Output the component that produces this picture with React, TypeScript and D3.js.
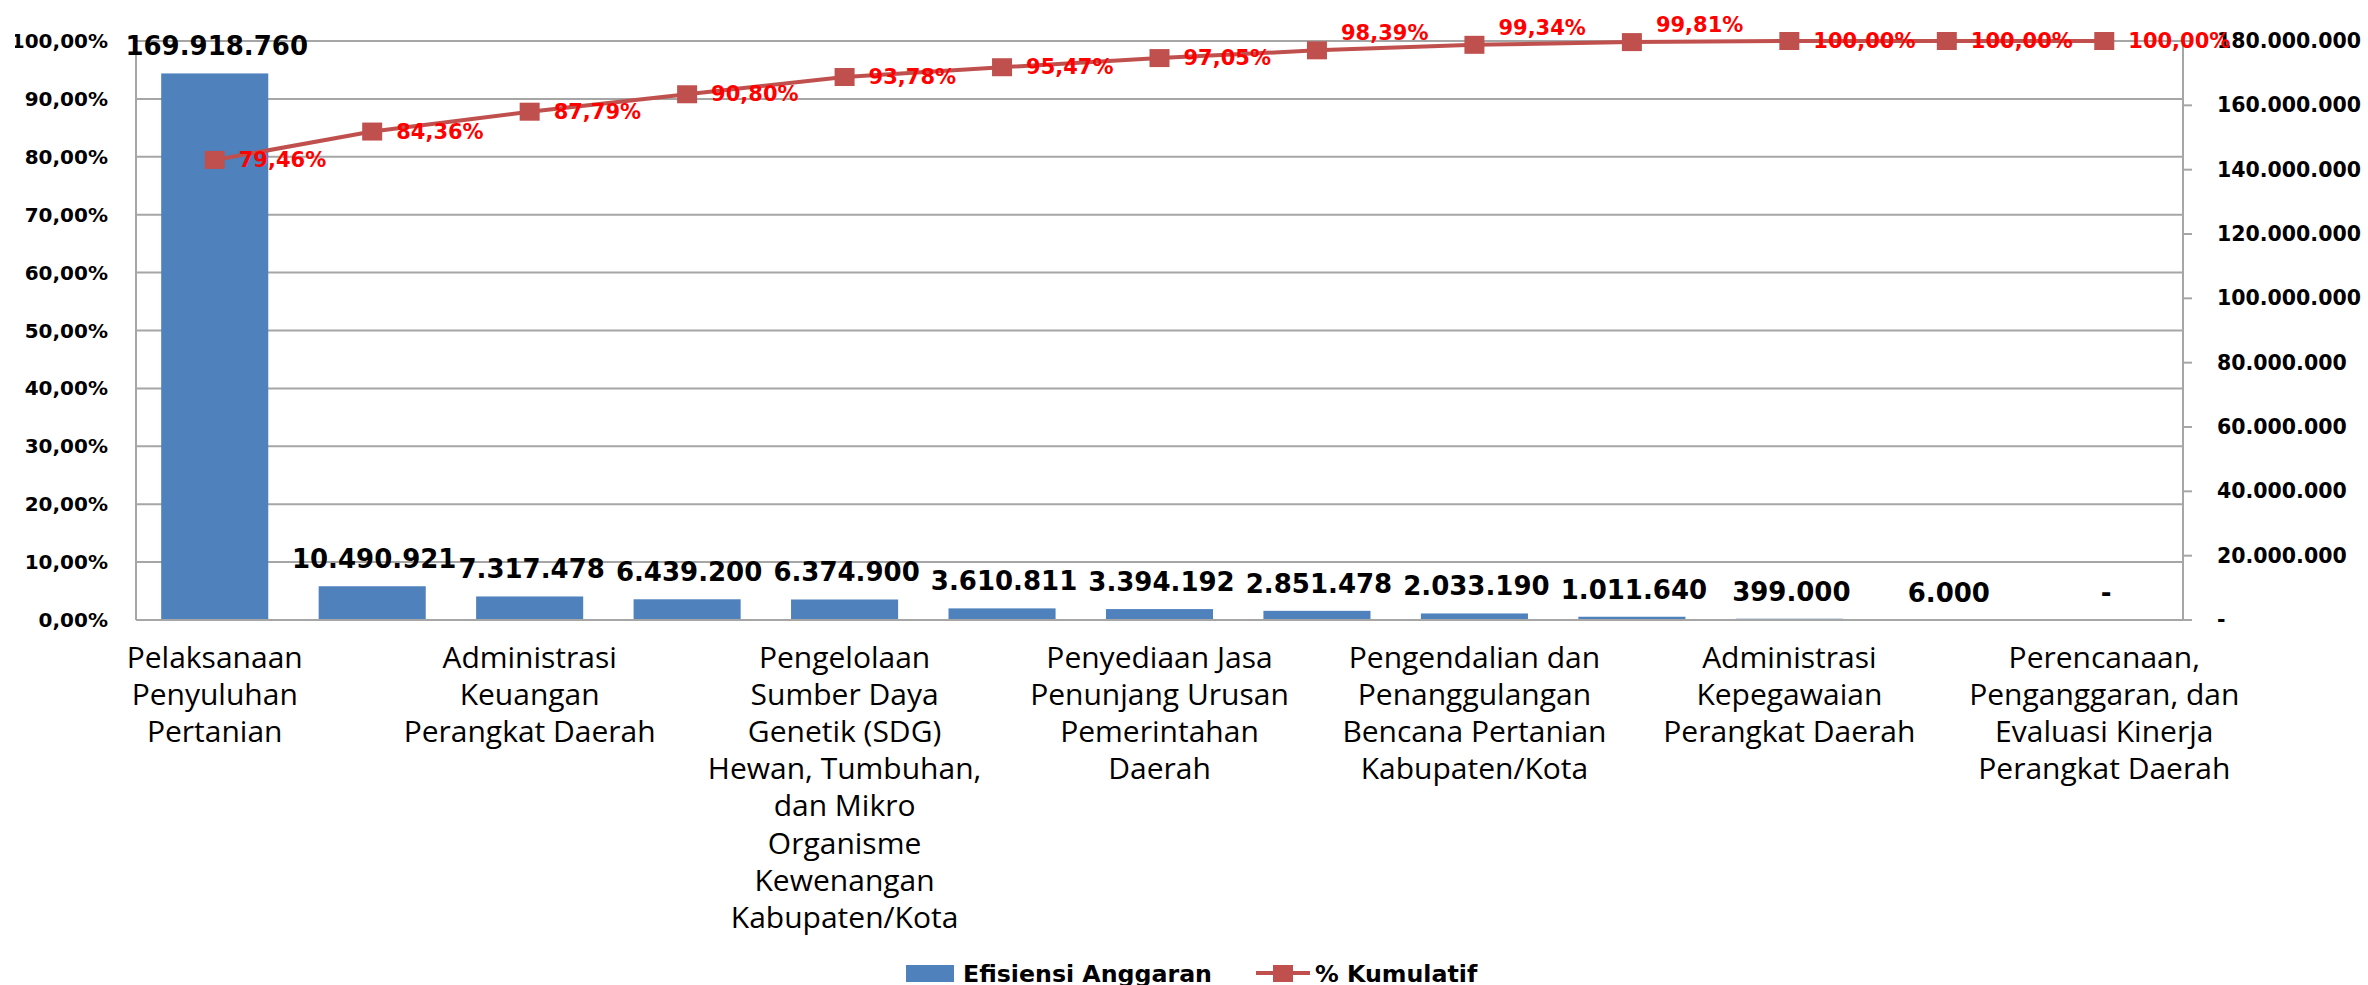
import React, { useRef, useEffect } from "react";
import * as d3 from "d3";

// category names, only every other one is printed on the axis (as in the source)
const categories = [
  "Pelaksanaan\nPenyuluhan\nPertanian",
  "",
  "Administrasi\nKeuangan\nPerangkat Daerah",
  "",
  "Pengelolaan\nSumber Daya\nGenetik (SDG)\nHewan, Tumbuhan,\ndan Mikro\nOrganisme\nKewenangan\nKabupaten/Kota",
  "",
  "Penyediaan Jasa\nPenunjang Urusan\nPemerintahan\nDaerah",
  "",
  "Pengendalian dan\nPenanggulangan\nBencana Pertanian\nKabupaten/Kota",
  "",
  "Administrasi\nKepegawaian\nPerangkat Daerah",
  "",
  "Perencanaan,\nPenganggaran, dan\nEvaluasi Kinerja\nPerangkat Daerah",
];

const efisiensi = [169918760, 10490921, 7317478, 6439200, 6374900, 3610811, 3394192, 2851478, 2033190, 1011640, 399000, 6000, 0];
const kumulatif = [79.46, 84.36, 87.79, 90.8, 93.78, 95.47, 97.05, 98.39, 99.34, 99.81, 100, 100, 100];

const legendBar = "Efisiensi Anggaran";
const legendLine = "% Kumulatif";

const W = 2368, H = 985;
const left = 136, right = 2183, top = 41, bottom = 620;
const BLUE = "#4F81BD", RED = "#C0504D", GRID = "#A6A6A6";
const NUM_FONT = "'DejaVu Sans', Verdana, sans-serif";
const CAT_FONT = "'Open Sans', 'Noto Sans', sans-serif";
// labels Excel pushed above the point instead of to its right
const raised = new Set([7, 8, 9]);

const loc = d3.formatLocale({ decimal: ",", thousands: ".", grouping: [3], currency: ["", ""] });
const fmtVal = (v: number) => (v === 0 ? "-" : loc.format(",d")(v));
const fmtPct = (v: number) => loc.format(".2f")(v) + "%";

function ParetoChart() {
  const svgRef = useRef<SVGSVGElement>(null);

  useEffect(() => {
    const svg = d3.select(svgRef.current);
    svg.selectAll("*").remove();

    const idx = categories.map((_, i) => String(i));
    const x = d3.scaleBand().domain(idx).range([left, right]).paddingInner(0.32).paddingOuter(0.16);
    const yPct = d3.scaleLinear().domain([0, 100]).range([bottom, top]);
    const yVal = d3.scaleLinear().domain([0, 180000000]).range([bottom, top]);
    const cx = (i: number) => (x(String(i)) as number) + x.bandwidth() / 2;

    svg.append("defs").append("clipPath").attr("id", "leftclip")
      .append("rect").attr("x", 15).attr("y", 0).attr("width", 200).attr("height", H);

    // gridlines (follow the percent axis)
    const pctTicks = yPct.ticks(10);
    svg.append("g").selectAll("line").data(pctTicks).join("line")
      .attr("x1", left).attr("x2", right)
      .attr("y1", d => yPct(d)).attr("y2", d => yPct(d))
      .attr("stroke", GRID).attr("stroke-width", 2);

    // bars
    svg.append("g").selectAll("rect").data(efisiensi).join("rect")
      .attr("x", (_, i) => x(String(i)) as number)
      .attr("width", x.bandwidth())
      .attr("y", d => yVal(d))
      .attr("height", d => bottom - yVal(d))
      .attr("fill", BLUE);

    // axis lines
    const ax = svg.append("g").attr("stroke", GRID).attr("stroke-width", 2);
    ax.append("line").attr("x1", left).attr("x2", left).attr("y1", top).attr("y2", bottom);
    ax.append("line").attr("x1", right).attr("x2", right).attr("y1", top).attr("y2", bottom);
    ax.append("line").attr("x1", left).attr("x2", right + 9).attr("y1", bottom).attr("y2", bottom);
    const valTicks = yVal.ticks(10);
    ax.selectAll("line.tk").data(valTicks).join("line").attr("class", "tk")
      .attr("x1", right).attr("x2", right + 9)
      .attr("y1", d => yVal(d)).attr("y2", d => yVal(d));

    // left tick labels
    svg.append("g").attr("clip-path", "url(#leftclip)")
      .selectAll("text").data(pctTicks).join("text")
      .attr("x", 108).attr("y", d => yPct(d))
      .attr("text-anchor", "end").attr("dominant-baseline", "central")
      .attr("font-family", NUM_FONT).attr("font-weight", "bold").attr("font-size", 20)
      .attr("fill", "#000")
      .text(d => fmtPct(d));

    // right tick labels
    svg.append("g").selectAll("text").data(valTicks).join("text")
      .attr("x", 2217).attr("y", d => yVal(d))
      .attr("dominant-baseline", "central")
      .attr("font-family", NUM_FONT).attr("font-weight", "bold").attr("font-size", 20.5)
      .attr("fill", "#000")
      .text(d => fmtVal(d));

    // bar value labels
    svg.append("g").selectAll("text").data(efisiensi).join("text")
      .attr("x", (_, i) => cx(i) + 2).attr("y", d => yVal(d) - 18)
      .attr("text-anchor", "middle")
      .attr("font-family", NUM_FONT).attr("font-weight", "bold").attr("font-size", 26)
      .attr("fill", "#000")
      .text(d => fmtVal(d));

    // category labels
    const cat = svg.append("g");
    categories.forEach((name, i) => {
      if (!name) return;
      const t = cat.append("text")
        .attr("text-anchor", "middle")
        .attr("font-family", CAT_FONT).attr("font-size", 30).attr("fill", "#000");
      name.split("\n").forEach((ln, j) => {
        t.append("tspan").attr("x", cx(i)).attr("y", 668 + j * 37.1).text(ln);
      });
    });

    // cumulative line
    const line = d3.line<number>().x((_, i) => cx(i)).y(d => yPct(d));
    svg.append("path").datum(kumulatif)
      .attr("d", line).attr("fill", "none")
      .attr("stroke", RED).attr("stroke-width", 4).attr("stroke-linejoin", "round");
    svg.append("g").selectAll("rect").data(kumulatif).join("rect")
      .attr("x", (_, i) => cx(i) - 10).attr("y", d => yPct(d) - 9)
      .attr("width", 20).attr("height", 18).attr("fill", RED);

    svg.append("g").selectAll("text").data(kumulatif).join("text")
      .attr("x", (_, i) => cx(i) + 24)
      .attr("y", (d, i) => (raised.has(i) ? yPct(d) - 17 : yPct(d)))
      .attr("dominant-baseline", "central")
      .attr("font-family", NUM_FONT).attr("font-weight", "bold").attr("font-size", 21)
      .attr("fill", "#FF0000")
      .text(d => fmtPct(d));

    // legend
    const lg = svg.append("g");
    lg.append("rect").attr("x", 906).attr("y", 965).attr("width", 48).attr("height", 17).attr("fill", BLUE);
    lg.append("text").attr("x", 963).attr("y", 982)
      .attr("font-family", NUM_FONT).attr("font-weight", "bold").attr("font-size", 23.7)
      .text(legendBar);
    lg.append("line").attr("x1", 1256).attr("x2", 1310).attr("y1", 973).attr("y2", 973)
      .attr("stroke", RED).attr("stroke-width", 4);
    lg.append("rect").attr("x", 1273).attr("y", 965).attr("width", 20).attr("height", 17).attr("fill", RED);
    lg.append("text").attr("x", 1315).attr("y", 982)
      .attr("font-family", NUM_FONT).attr("font-weight", "bold").attr("font-size", 23.7)
      .text(legendLine);
  }, []);

  return (
    <svg ref={svgRef} width={W} height={H} viewBox={`0 0 ${W} ${H}`}
      style={{ position: "absolute", left: 0, top: 0, background: "#fff" }} />
  );
}

export default function App() {
  return <ParetoChart />;
}
